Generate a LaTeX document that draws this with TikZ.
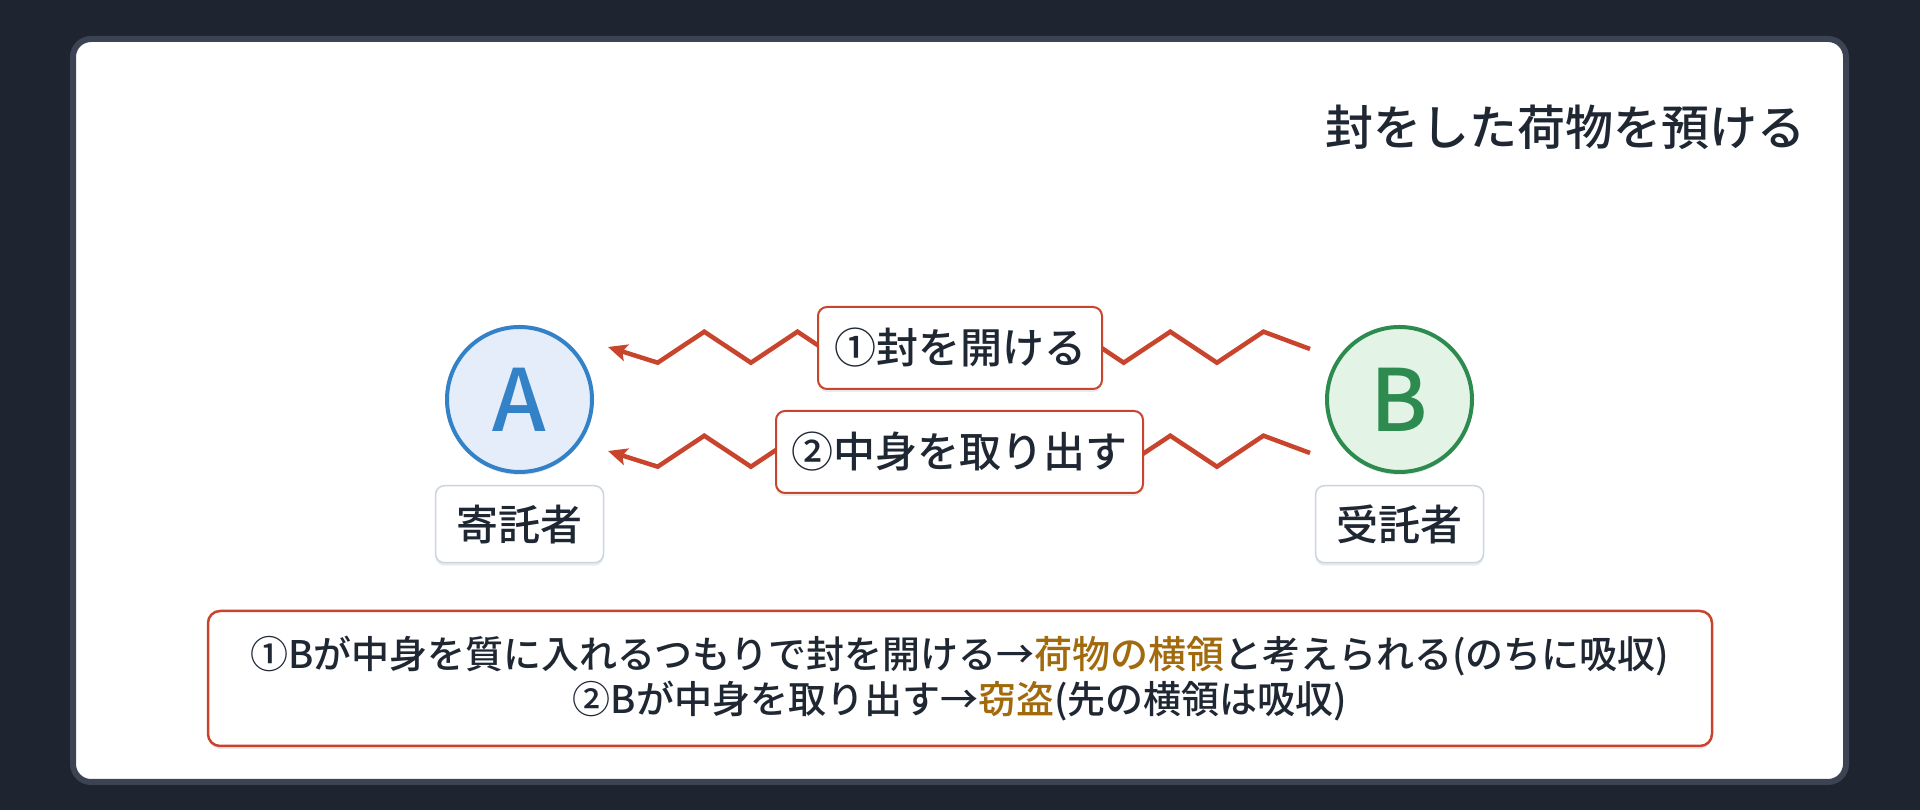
\documentclass[tikz,border=0pt]{standalone}
\usepackage{fontspec}
\setmainfont{Noto Sans CJK JP}[UprightFont=* Medium, BoldFont=* Bold]
\usepackage{tikz}
\usetikzlibrary{arrows.meta,positioning,shadows}

\definecolor{bgdark}{HTML}{1E2430}
\definecolor{cardedge}{HTML}{3C4454}
\definecolor{ink}{HTML}{1F2733}
\definecolor{zigred}{HTML}{C8442D}
\definecolor{gold}{HTML}{A16A0C}
\definecolor{ablue}{HTML}{3381C7}
\definecolor{afill}{HTML}{E4EDF9}
\definecolor{bgreen}{HTML}{2E8B4F}
\definecolor{bfill}{HTML}{E3F4E7}
\definecolor{tagedge}{HTML}{CBD5E1}

\newcommand{\hl}[1]{\textcolor{gold}{#1}}

\begin{document}
\begin{tikzpicture}[x=1pt,y=1pt,>={Stealth[length=19pt,width=17pt,inset=4pt]},
	                    line join=miter,text=ink]
	  \tikzstyle{softshadow}=[drop shadow={shadow xshift=0pt,shadow yshift=-3pt,opacity=0.08,fill=black}]
	  \tikzstyle{party}=[circle,line width=4pt,minimum size=145pt,inner sep=0pt,softshadow,
	                     font=\fontsize{86}{86}\selectfont]
	  \tikzstyle{tag}=[draw=tagedge,fill=white,line width=1.5pt,rounded corners=9pt,softshadow,
	                   minimum width=168pt,minimum height=77pt,inner sep=0pt,font=\fontsize{42}{42}\selectfont]
	  \tikzstyle{act}=[draw=zigred,fill=white,line width=2pt,rounded corners=9pt,softshadow,
	                   minimum height=82pt,inner sep=0pt,font=\fontsize{42}{42}\selectfont]
	  \tikzstyle{zig}=[->,draw=zigred,line width=4.5pt]

	  \fill[bgdark] (0,0) rectangle (1920,810);
	  \draw[cardedge,fill=white,line width=6pt,rounded corners=18pt] (73,771) rectangle (1846,28);

	  \node[anchor=east,inner sep=0pt,font=\fontsize{48}{48}\selectfont] (title) at (1806,683) {封をした荷物を預ける};

	  \node[party,draw=ablue,fill=afill,text=ablue] (A) at (519.5,410.5) {A};
	  \node[party,draw=bgreen,fill=bfill,text=bgreen] (B) at (1399.5,410.5) {B};
	  \node[tag] (Aname) [below=11pt of A] {寄託者};
	  \node[tag] (Bname) [below=11pt of B] {受託者};

	  \coordinate (z1s) at ([shift={(-89.5,50.5)}]B.center);
	  \coordinate (z1e) at ([shift={(88.5,52.5)}]A.center);
	  \coordinate (z2s) at ([shift={(-89.5,-53.5)}]B.center);
	  \coordinate (z2e) at ([shift={(88.5,-51.5)}]A.center);

	  \draw[zig] (z1s) -- ++(-46.5,17.3)
	        \foreach \k in {1,...,6}{ -- ++(-46.6,-31) -- ++(-46.6,31)} -- ++(-46.6,-31) -- (z1e);
	  \draw[zig] (z2s) -- ++(-46.5,17.3)
	        \foreach \k in {1,...,6}{ -- ++(-46.6,-31) -- ++(-46.6,31)} -- ++(-46.6,-31) -- (z2e);

	  \node[act,minimum width=284pt] (open) at (960,462) {①封を開ける};
	  \node[act,minimum width=367pt] (take) at (959.5,358) {②中身を取り出す};

	  \node[draw=zigred,fill=white,line width=2.5pt,rounded corners=12pt,softshadow,
	        minimum width=1504pt,minimum height=135pt,align=center,
	        font=\fontsize{38}{45}\selectfont] (note) at (960,131.5)
	        {①Bが中身を質に入れるつもりで封を開ける→\hl{荷物の横領}と考えられる(のちに吸収)\\
	         ②Bが中身を取り出す→\hl{窃盗}(先の横領は吸収)};
	\end{tikzpicture}
\end{document}
